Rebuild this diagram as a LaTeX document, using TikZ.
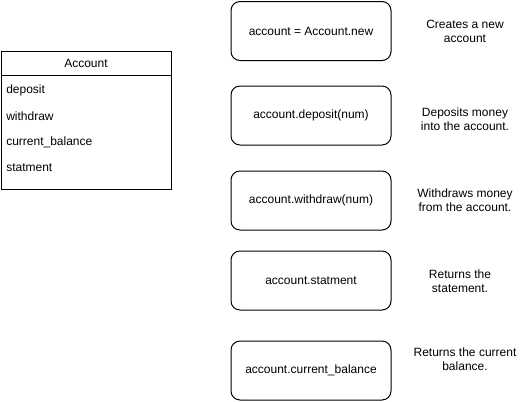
\documentclass[tikz,border=0pt]{standalone}
\usepackage{fontspec}
\setmainfont{Liberation Sans}
\begin{document}
\begin{tikzpicture}[x=0.75pt,y=-0.75pt,
  every node/.style={font=\fontsize{9pt}{10.5pt}\selectfont, inner sep=0pt},
  methodbox/.style={draw, line width=0.75pt, rounded corners=6.75pt, minimum width=120pt, minimum height=44.25pt, anchor=north west},
  desc/.style={align=center},
  item/.style={anchor=west},
  classpart/.style={draw, line width=0.75pt, anchor=north west, minimum width=127.5pt}
]
\useasboundingbox (0,0) rectangle (521,401);
% class box
\node[classpart, minimum height=18pt] (hdr) at (0.5,51) {Account};
\node[classpart, minimum height=85.5pt] (body) at (0.5,75) {};
\node[item] (i1) at (6,90) {deposit};
\node[item] (i2) at (6,116) {withdraw};
\node[item] (i3) at (6,142) {current\_balance};
\node[item] (i4) at (6,168) {statment};
% method boxes
\node[methodbox] (m1) at (230.5,1) {account = Account.new};
\node[methodbox] (m2) at (230.5,85.5) {account.deposit(num)};
\node[methodbox] (m3) at (230.5,170.5) {account.withdraw(num)};
\node[methodbox] (m4) at (230.5,250.5) {account.statment};
\node[methodbox] (m5) at (230.5,340.5) {account.current\_balance};
% descriptions
\node[desc] (d1) at (465,31) {Creates a new\\account};
\node[desc] (d2) at (465,119.5) {Deposits money\\into the account.};
\node[desc] (d3) at (465,200.5) {Withdraws money\\from the account.};
\node[desc] (d4) at (460,281) {Returns the\\statement.};
\node[desc] (d5) at (465,359) {Returns the current\\balance.};
\end{tikzpicture}
\end{document}
